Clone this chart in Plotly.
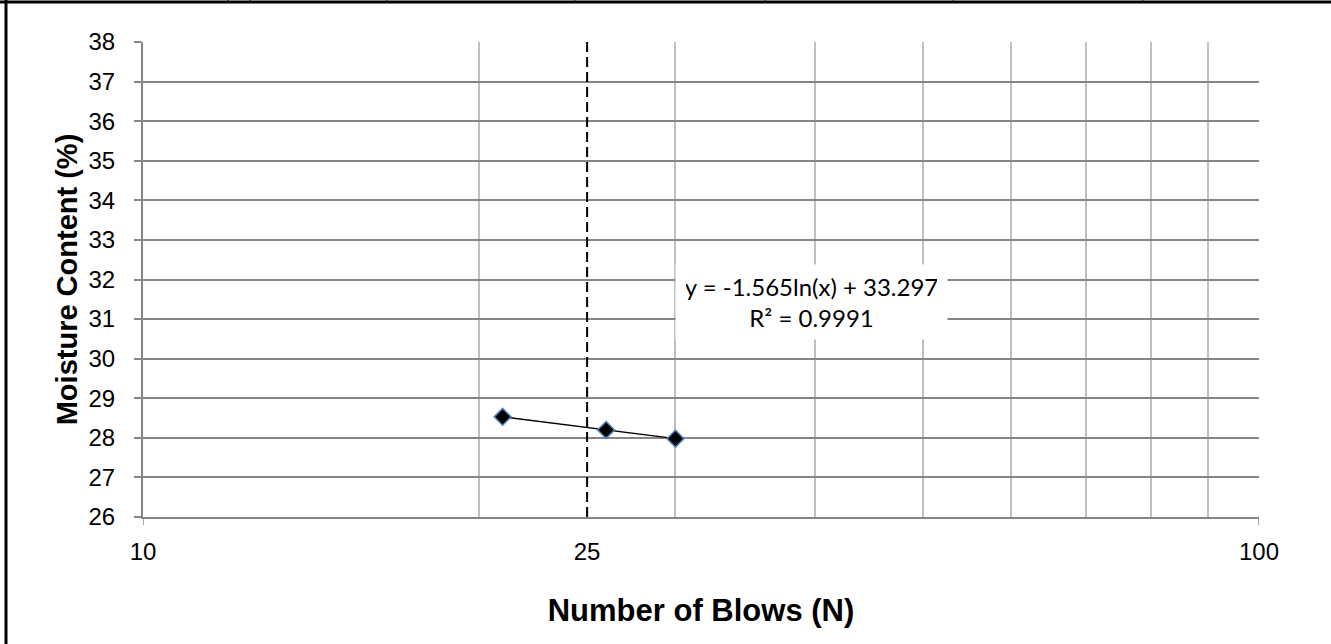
import plotly.graph_objects as go

# ---- data ----
blows = [21, 26, 30]
moisture = [28.53, 28.20, 27.98]
critical_n = [25, 25]
critical_y = [26, 38]
x_tick_vals = [10, 25, 100]
x_tick_text = ["10", "25", "100"]
minor_grid = [10, 20, 30, 40, 50, 60, 70, 80, 90, 100]
equation = "y = -1.565ln(x) + 33.297<br>R² = 0.9991"

W, H = 1331, 644
L, R, T, B = 143, 1259, 42, 517  # plot area in pixels


def px(xp):
    return (xp - L) / (R - L)


def py(yp):
    return (B - yp) / (B - T)


fig = go.Figure()

fig.add_trace(go.Scatter(
    x=critical_n, y=critical_y, mode="lines",
    line=dict(color="black", width=2, dash="10px,5px"),
    showlegend=False, hoverinfo="skip"))

fig.add_trace(go.Scatter(
    x=blows, y=moisture, mode="lines+markers",
    line=dict(color="black", width=1.5),
    marker=dict(symbol="diamond", size=13, color="black",
                line=dict(color="#4f81bd", width=1.5)),
    showlegend=False))

axis_gray = "#868686"

fig.update_xaxes(
    type="log", range=[1, 2],
    tickvals=x_tick_vals, ticktext=x_tick_text, ticks="",
    ticklabelstandoff=12,
    showgrid=False, showline=True, linecolor=axis_gray, linewidth=2,
    tickfont=dict(family="Liberation Sans", size=24, color="black"),
    minor=dict(tickvals=minor_grid, showgrid=True, gridcolor="#c0c0c0",
               gridwidth=1.5, ticks=""),
    zeroline=False,
    title=dict(text="<b>Number of Blows (N)</b>",
               font=dict(family="Liberation Sans", size=31, color="black"),
               standoff=36),
)
fig.update_yaxes(
    range=[26, 38], dtick=1, tick0=26,
    showgrid=True, gridcolor=axis_gray, gridwidth=1.5,
    showline=True, linecolor=axis_gray, linewidth=2,
    ticks="outside", ticklen=7, tickcolor=axis_gray, tickwidth=1.5,
    ticklabelstandoff=14,
    tickfont=dict(family="Liberation Sans", size=24, color="black"),
    zeroline=False,
    title=dict(text="<b>Moisture Content (%)</b>",
               font=dict(family="Liberation Sans", size=29, color="black"),
               standoff=2),
)

shapes = []
# outside tick marks at the decade ends of the log axis
for xv in [10, 100]:
    shapes.append(dict(type="line", xref="x", yref="paper", x0=xv, x1=xv,
                       y0=0, y1=py(B + 8), line=dict(color=axis_gray, width=1.5)))
# page border (left and top)
shapes.append(dict(type="line", xref="paper", yref="paper",
                   x0=px(6), x1=px(6), y0=py(0), y1=py(H),
                   line=dict(color="black", width=3)))
shapes.append(dict(type="line", xref="paper", yref="paper",
                   x0=px(0), x1=px(W), y0=py(2), y1=py(2),
                   line=dict(color="black", width=3)))
# tiny table fragments at the very top
for xp in [228, 250, 387, 575, 765, 953, 1143]:
    shapes.append(dict(type="line", xref="paper", yref="paper",
                       x0=px(xp), x1=px(xp), y0=py(0), y1=py(1),
                       line=dict(color="black", width=1)))

fig.update_layout(
    width=W, height=H,
    margin=dict(l=L, r=W - R, t=T, b=H - B, pad=0),
    plot_bgcolor="white", paper_bgcolor="white",
    shapes=shapes,
    annotations=[dict(
        x=px(811), y=py(302), xref="paper", yref="paper",
        text=equation, showarrow=False, align="center",
        font=dict(family="Lato", size=24, color="black"),
        bgcolor="white", width=251, height=54, borderpad=10,
    )],
)

fig.write_html("out.html",
               config={"displayModeBar": False},
               post_script="document.body.style.margin='0px';")
